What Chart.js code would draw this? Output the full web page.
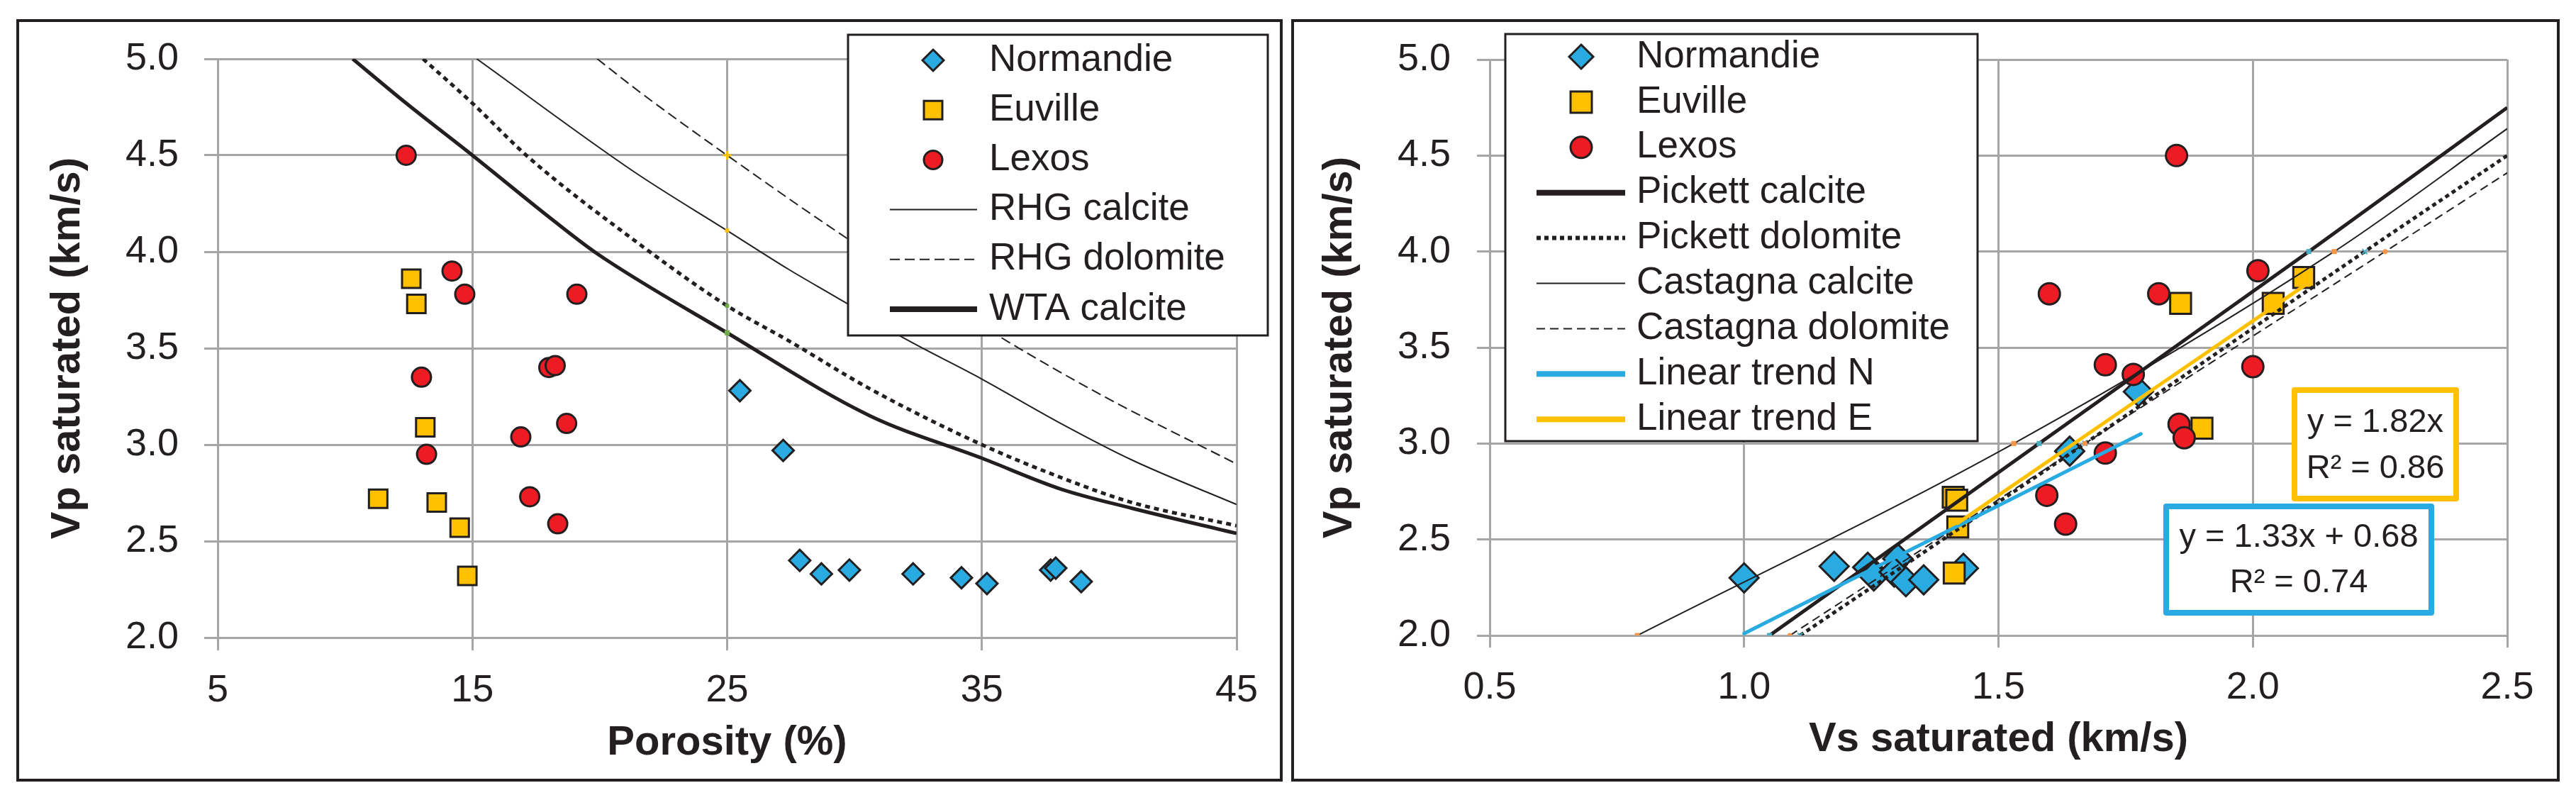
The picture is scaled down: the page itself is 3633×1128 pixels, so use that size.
<!DOCTYPE html>
<html>
<head>
<meta charset="utf-8">
<script src="https://cdn.jsdelivr.net/npm/chart.js@4.4.1/dist/chart.umd.min.js"></script>
<style>
  html, body { margin: 0; padding: 0; background: #fff; }
  body { width: 3633px; height: 1128px; position: relative; overflow: hidden; }
  .frame { position: absolute; box-sizing: border-box; border: 4px solid #231f20; top: 27px; height: 1075px; }
  #frameL { left: 23px; width: 1786px; }
  #frameR { left: 1821px; width: 1789px; }
  canvas { position: absolute; top: 0; }
  #chartL { left: 0; width: 1813px; height: 1128px; }
  #chartR { left: 1813px; width: 1820px; height: 1128px; }
</style>
</head>
<body>
<div class="frame" id="frameL"></div>
<div class="frame" id="frameR"></div>
<canvas id="chartL" width="1813" height="1128"></canvas>
<canvas id="chartR" width="1820" height="1128"></canvas>
<script>
// ---- left panel: porosity (%) vs Vp saturated (km/s)
const porosityTicks = [5, 15, 25, 35, 45];
const vpTicks = [2.0, 2.5, 3.0, 3.5, 4.0, 4.5, 5.0];

const normPorosity = [25.5, 27.2, 27.85, 28.7, 29.8, 32.3, 34.2, 35.2, 37.7, 37.9, 38.9];
const normVpL      = [3.28, 2.97, 2.40, 2.33, 2.35, 2.33, 2.31, 2.28, 2.35, 2.36, 2.29];
const euvPorosity  = [12.6, 12.8, 13.15, 11.3, 13.6, 14.5, 14.8];
const euvVpL       = [3.86, 3.73, 3.09, 2.72, 2.70, 2.57, 2.32];
const lexPorosity  = [12.4, 14.2, 14.7, 19.1, 13.0, 18.0, 18.25, 13.2, 16.9, 18.7, 17.25, 18.35];
const lexVpL       = [4.50, 3.90, 3.78, 3.78, 3.35, 3.40, 3.41, 2.95, 3.04, 3.11, 2.73, 2.59];

const rhgCalPor = [15.17, 21.4, 25, 27.4, 29.6, 31.7, 35, 38.1, 40.9, 45];
const rhgCalVp  = [5.0, 4.41, 4.11, 3.91, 3.74, 3.57, 3.34, 3.11, 2.92, 2.69];
const rhgDolPor = [19.9, 21.55, 25, 29.7, 35.7, 39.8, 45];
const rhgDolVp  = [5.0, 4.83, 4.50, 4.07, 3.56, 3.25, 2.90];
const wtaCalPor = [10.3, 12.4, 15, 18.2, 19.9, 25, 30.6, 35, 38.1, 40.9, 45];
const wtaCalVp  = [5.0, 4.77, 4.5, 4.16, 3.99, 3.58, 3.15, 2.93, 2.77, 2.67, 2.54];
const wtaDolPor = [13.06, 15, 17.2, 21.35, 25, 27.4, 30.6, 35, 38.1, 40.9, 45];
const wtaDolVp  = [5.0, 4.77, 4.49, 4.06, 3.72, 3.54, 3.29, 3.0, 2.83, 2.70, 2.58];

// ---- right panel: Vs saturated vs Vp saturated (km/s)
const vsTicks = [0.5, 1.0, 1.5, 2.0, 2.5];

const normVs  = [1.0, 1.177, 1.243, 1.255, 1.302, 1.295, 1.318, 1.353, 1.431, 1.64, 1.775];
const normVpR = [2.30, 2.36, 2.355, 2.31, 2.40, 2.33, 2.28, 2.29, 2.35, 2.96, 3.27];
const euvVs   = [1.858, 2.10, 2.04, 1.90, 1.411, 1.418, 1.42, 1.413];
const euvVpR  = [3.73, 3.865, 3.73, 3.08, 2.72, 2.705, 2.565, 2.325];
const lexVs   = [1.85, 1.60, 1.815, 2.01, 1.71, 1.765, 2.0, 1.855, 1.865, 1.71, 1.595, 1.632];
const lexVpR  = [4.50, 3.78, 3.78, 3.90, 3.41, 3.36, 3.40, 3.10, 3.03, 2.95, 2.73, 2.58];

const pickCalVs = [1.05, 1.58, 2.11, 2.50];
const pickCalVp = [2.0, 3.0, 4.0, 4.75];
const pickDolVs = [1.11, 1.67, 2.22, 2.50];
const pickDolVp = [2.0, 3.0, 4.0, 4.50];
const castCalVs = [0.79, 1.53, 2.16, 2.50];
const castCalVp = [2.0, 3.0, 4.0, 4.64];
const castDolVs = [1.09, 1.67, 2.26, 2.50];
const castDolVp = [2.0, 3.0, 4.0, 4.41];
const trendNVs = [1.0, 1.78];
const trendNVp = [2.01, 3.05];
const trendEVs = [1.42, 2.10];
const trendEVp = [2.585, 3.82];

const INK = '#231f20';
const GRID = '#a6a6a6';
const BLUE = '#29abe2';
const GOLD = '#ffc000';
const RED = '#ed1c24';
const FONT = '"Liberation Sans", Arial, sans-serif';

const zip = (xs, ys) => xs.map((x, i) => ({ x: x, y: ys[i] }));

function markers(label, data, style, color, radius, order) {
  return {
    label: label, data: data, pointStyle: style, backgroundColor: color,
    borderColor: INK, borderWidth: 3, pointRadius: radius, order: order, showLine: false
  };
}

function curve(label, data, width, dash, order, extra) {
  return Object.assign({
    label: label, data: data, showLine: true, borderColor: INK, borderWidth: width,
    borderDash: dash, borderCapStyle: 'butt', cubicInterpolationMode: 'monotone',
    pointRadius: 0, order: order
  }, extra || {});
}

function drawMarker(ctx, style, x, y, r, fill) {
  ctx.beginPath();
  if (style === 'rectRot') {
    ctx.moveTo(x, y - r); ctx.lineTo(x + r, y); ctx.lineTo(x, y + r); ctx.lineTo(x - r, y);
    ctx.closePath();
  } else if (style === 'rect') {
    ctx.rect(x - r, y - r, 2 * r, 2 * r);
  } else {
    ctx.arc(x, y, r, 0, Math.PI * 2);
  }
  ctx.fillStyle = fill; ctx.fill();
  ctx.lineWidth = 3; ctx.strokeStyle = INK; ctx.stroke();
}

// Legend box drawn at a fixed spot, like the spreadsheet one
const boxLegend = {
  id: 'boxLegend',
  afterDraw(chart, args, o) {
    const ctx = chart.ctx;
    ctx.save();
    ctx.fillStyle = '#fff';
    ctx.fillRect(o.x, o.y, o.w, o.h);
    ctx.lineWidth = 3; ctx.strokeStyle = INK;
    ctx.strokeRect(o.x, o.y, o.w, o.h);
    const items = chart.data.datasets.filter(d => d.inLegend !== false);
    items.forEach((d, i) => {
      const y = o.rowY + i * o.rowStep;
      if (d.showLine) {
        ctx.beginPath();
        ctx.setLineDash(d.legendDash || d.borderDash || []);
        ctx.lineWidth = d.legendWidth || d.borderWidth;
        ctx.strokeStyle = d.borderColor;
        ctx.lineCap = 'butt';
        ctx.moveTo(o.lineX0, y); ctx.lineTo(o.lineX1, y);
        ctx.stroke();
        ctx.setLineDash([]);
      } else {
        drawMarker(ctx, d.pointStyle, o.symX, y, d.legendSize, d.backgroundColor);
      }
      ctx.fillStyle = INK;
      ctx.font = o.fontSize + 'px ' + FONT;
      ctx.textBaseline = 'middle';
      ctx.textAlign = 'left';
      ctx.fillText(d.label, o.textX, y);
    });
    ctx.restore();
  }
};

// Trend-line equation boxes
const eqBoxes = {
  id: 'eqBoxes',
  afterDraw(chart, args, o) {
    if (!o.boxes) return;
    const ctx = chart.ctx;
    ctx.save();
    o.boxes.forEach(b => {
      ctx.fillStyle = '#fff';
      ctx.fillRect(b.x, b.y, b.w, b.h);
      ctx.lineWidth = 8; ctx.strokeStyle = b.color; ctx.lineJoin = 'round';
      ctx.strokeRect(b.x, b.y, b.w, b.h);
      ctx.fillStyle = INK;
      ctx.font = '47px ' + FONT;
      ctx.textAlign = 'center'; ctx.textBaseline = 'middle';
      b.lines.forEach((t, i) => ctx.fillText(t, b.x + b.w / 2, b.lineY[i]));
    });
    ctx.restore();
  }
};

function axis(min, max, tickList, fmt, title, opts) {
  return {
    type: 'linear', min: min, max: max,
    afterBuildTicks: s => { s.ticks = tickList.map(v => ({ value: v })); },
    afterFit: s => { if (opts.width) s.width = opts.width; if (opts.height) s.height = opts.height; },
    grid: { color: GRID, lineWidth: 3, tickLength: opts.tickLength, drawTicks: true },
    border: { display: false },
    ticks: {
      color: INK, font: { family: FONT, size: 54 }, padding: opts.tickPad,
      maxRotation: 0, autoSkip: false, callback: fmt
    },
    title: {
      display: true, text: title, color: INK,
      font: { family: FONT, size: 58, weight: 'bold' }, padding: opts.titlePad
    }
  };
}

const common = {
  responsive: false, devicePixelRatio: 1, animation: false, events: [],
  plugins: { legend: { display: false }, tooltip: { enabled: false } }
};

const tinyAt25 = r => c => (c.raw && c.raw.x === 25 ? r : 0);

new Chart(document.getElementById('chartL'), {
  type: 'scatter',
  data: {
    datasets: [
      Object.assign(markers('Normandie', zip(normPorosity, normVpL), 'rectRot', BLUE, 15, 10), { legendSize: 15 }),
      Object.assign(markers('Euville', zip(euvPorosity, euvVpL), 'rect', GOLD, 18.4, 9), { legendSize: 13 }),
      Object.assign(markers('Lexos', zip(lexPorosity, lexVpL), 'circle', RED, 13.5, 8), { legendSize: 13 }),
      curve('RHG calcite', zip(rhgCalPor, rhgCalVp), 2, [], 4,
        { pointRadius: tinyAt25(4), pointStyle: 'rect', pointBackgroundColor: GOLD, pointBorderColor: GOLD, pointBorderWidth: 0 }),
      curve('RHG dolomite', zip(rhgDolPor, rhgDolVp), 2, [14, 7], 3,
        { pointRadius: tinyAt25(6), pointStyle: 'cross', pointBorderColor: GOLD, pointBorderWidth: 3 }),
      curve('WTA calcite', zip(wtaCalPor, wtaCalVp), 5, [], 1,
        { legendWidth: 8, pointRadius: tinyAt25(5), pointStyle: 'rect', pointBackgroundColor: '#70ad47', pointBorderColor: '#70ad47', pointBorderWidth: 0 }),
      curve('WTA dolomite', zip(wtaDolPor, wtaDolVp), 5, [7, 6], 2,
        { inLegend: false, pointRadius: tinyAt25(4), pointStyle: 'rect', pointBackgroundColor: '#70ad47', pointBorderColor: '#70ad47', pointBorderWidth: 0 })
    ]
  },
  options: Object.assign({}, common, {
    layout: { padding: { left: 0, top: 83, right: 69, bottom: 0 } },
    scales: {
      x: axis(5, 45, porosityTicks, v => String(v), 'Porosity (%)',
        { height: 229, tickLength: 18, tickPad: 25, titlePad: { top: 0, bottom: 45 } }),
      y: axis(2, 5, vpTicks, v => v.toFixed(1), 'Vp saturated (km/s)',
        { width: 307, tickLength: 19, tickPad: 36, titlePad: { top: 61, bottom: 0 } })
    },
    plugins: Object.assign({}, common.plugins, {
      boxLegend: { x: 1196, y: 49, w: 592, h: 424, rowY: 85, rowStep: 70.2,
        symX: 1316, lineX0: 1255, lineX1: 1378, textX: 1395, fontSize: 53 }
    })
  }),
  plugins: [boxLegend]
});

const tinyBefore = (r) => c => (c.raw && c.raw.x < 2.45 ? r : 0);

new Chart(document.getElementById('chartR'), {
  type: 'scatter',
  data: {
    datasets: [
      Object.assign(markers('Normandie', zip(normVs, normVpR), 'rectRot', BLUE, 20.5, 10), { legendSize: 17 }),
      Object.assign(markers('Euville', zip(euvVs, euvVpR), 'rect', GOLD, 20.8, 9), { legendSize: 15 }),
      Object.assign(markers('Lexos', zip(lexVs, lexVpR), 'circle', RED, 15, 8), { legendSize: 15 }),
      curve('Pickett calcite', zip(pickCalVs, pickCalVp), 5, [], 6,
        { legendWidth: 8, pointRadius: tinyBefore(5), pointStyle: 'rect', pointBackgroundColor: '#4bacc6', pointBorderColor: '#4bacc6', pointBorderWidth: 0 }),
      curve('Pickett dolomite', zip(pickDolVs, pickDolVp), 5, [6, 5], 5,
        { legendWidth: 6, pointRadius: tinyBefore(5), pointStyle: 'crossRot', pointBorderColor: '#4bacc6', pointBorderWidth: 2 }),
      curve('Castagna calcite', zip(castCalVs, castCalVp), 2, [], 4,
        { pointRadius: tinyBefore(5), pointStyle: 'rect', pointBackgroundColor: '#f79646', pointBorderColor: '#f79646', pointBorderWidth: 0 }),
      curve('Castagna dolomite', zip(castDolVs, castDolVp), 2, [12, 7], 3,
        { pointRadius: tinyBefore(3.5), pointStyle: 'circle', pointBackgroundColor: '#f79646', pointBorderColor: '#f79646', pointBorderWidth: 0 }),
      curve('Linear trend N', zip(trendNVs, trendNVp), 5, [], 2, { borderColor: BLUE, legendWidth: 8, borderCapStyle: 'round' }),
      curve('Linear trend E', zip(trendEVs, trendEVp), 5, [], 1, { borderColor: GOLD, legendWidth: 8, borderCapStyle: 'round' })
    ]
  },
  options: Object.assign({}, common, {
    layout: { padding: { left: 0, top: 84, right: 97, bottom: 0 } },
    scales: {
      x: axis(0.5, 2.5, vsTicks, v => v.toFixed(1), 'Vs saturated (km/s)',
        { height: 232, tickLength: 17, tickPad: 25, titlePad: { top: 0, bottom: 50 } }),
      y: axis(2, 5, vpTicks, v => v.toFixed(1), 'Vp saturated (km/s)',
        { width: 288, tickLength: 18, tickPad: 37, titlePad: { top: 42, bottom: 0 } })
    },
    plugins: Object.assign({}, common.plugins, {
      boxLegend: { x: 310, y: 48, w: 666, h: 574, rowY: 80, rowStep: 63.9,
        symX: 417, lineX0: 354, lineX1: 479, textX: 495, fontSize: 53 },
      eqBoxes: {
        boxes: [
          { x: 1423, y: 550, w: 228, h: 153, color: GOLD, lines: ['y = 1.82x', 'R² = 0.86'], lineY: [596, 661] },
          { x: 1242, y: 714, w: 374, h: 150, color: BLUE, lines: ['y = 1.33x + 0.68', 'R² = 0.74'], lineY: [758, 822] }
        ]
      }
    })
  }),
  plugins: [boxLegend, eqBoxes]
});
</script>
</body>
</html>
